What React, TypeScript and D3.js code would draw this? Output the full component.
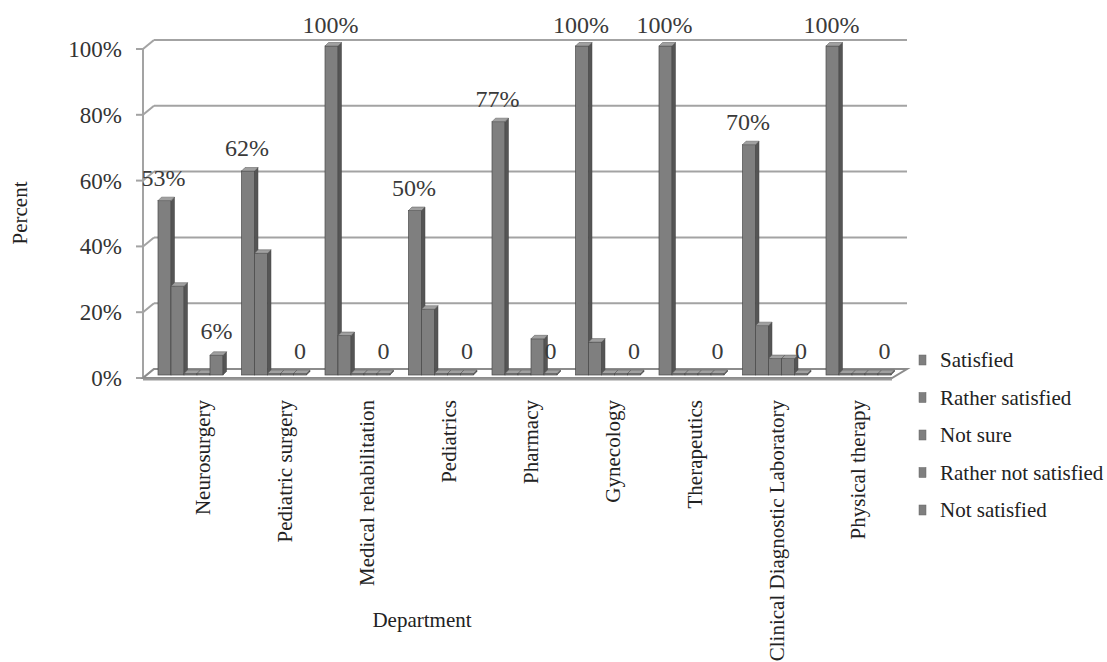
import React from "react";
import * as d3 from "d3";

// Departments on the category axis
const departments = [
  "Neurosurgery",
  "Pediatric surgery",
  "Medical rehabilitation",
  "Pediatrics",
  "Pharmacy",
  "Gynecology",
  "Therapeutics",
  "Clinical Diagnostic Laboratory",
  "Physical therapy",
];

// Survey answer categories (series)
const seriesNames = [
  "Satisfied",
  "Rather satisfied",
  "Not sure",
  "Rather not satisfied",
  "Not satisfied",
];

// Percent values per series, one entry per department
const satisfied = [53, 62, 100, 50, 77, 100, 100, 70, 100];
const ratherSatisfied = [27, 37, 12, 20, 0, 10, 0, 15, 0];
const notSure = [0, 0, 0, 0, 0, 0, 0, 5, 0];
const ratherNotSatisfied = [0, 0, 0, 0, 11, 0, 0, 5, 0];
const notSatisfied = [6, 0, 0, 0, 0, 0, 0, 0, 0];

const seriesValues = [satisfied, ratherSatisfied, notSure, ratherNotSatisfied, notSatisfied];

const yTicks = [0, 20, 40, 60, 80, 100];

const W = 1107;
const H = 662;
const serif: React.CSSProperties = { fontFamily: "Liberation Serif, Times New Roman, serif" };

export default function App() {
  // Front plane of the pseudo-3D box
  const axisX = 143;
  const depthX = 11;
  const depthY = 9;
  const yFront = d3.scaleLinear().domain([0, 100]).range([378, 49]);
  const backRight = 907;

  // Bars sit mid-depth
  const yBar = d3.scaleLinear().domain([0, 100]).range([375, 46]);
  const xGroup = d3.scaleBand<string>().domain(departments).range([144, 895.5]);
  const xSeries = d3.scaleBand<string>().domain(seriesNames).range([14, 79]);
  const xLabel = d3.scaleBand<string>().domain(departments).range([162, 899]);

  const cap = 3.5; // depth of a column's top/side faces
  const gridColor = "#a3a3a3";

  const bars: React.ReactNode[] = [];
  departments.forEach((dep, i) => {
    const gx = xGroup(dep)!;
    seriesNames.forEach((s, k) => {
      const v = seriesValues[k][i];
      const x = gx + xSeries(s)!;
      const w = xSeries.bandwidth();
      const bottom = yBar(0);
      const top = Math.min(yBar(v), bottom - 1.5);
      bars.push(
        <g key={`${i}-${k}`}>
          <rect x={x} y={top} width={w} height={bottom - top} fill="#7f7f7f" stroke="#4a4a4a" strokeWidth={0.7} />
          <polygon
            points={`${x + w},${top} ${x + w + cap},${top - cap} ${x + w + cap},${bottom - cap} ${x + w},${bottom}`}
            fill="#555555"
            stroke="#444"
            strokeWidth={0.5}
          />
          <polygon
            points={`${x},${top} ${x + cap},${top - cap} ${x + w + cap},${top - cap} ${x + w},${top}`}
            fill="#a0a0a0"
            stroke="#555"
            strokeWidth={0.5}
          />
        </g>
      );
    });
  });

  // Data labels: "Satisfied" and "Not satisfied" series
  const labels: React.ReactNode[] = [];
  departments.forEach((dep, i) => {
    const gx = xGroup(dep)!;
    const w = xSeries.bandwidth();
    const vS = satisfied[i];
    const xs = gx + xSeries("Satisfied")! + w / 2 - 1;
    labels.push(
      <text key={`s${i}`} x={xs} y={Math.max(yBar(vS) - 15, 33)} textAnchor="middle" fontSize={24} fill="#3a3a3a" style={serif}>
        {`${vS}%`}
      </text>
    );
    const vN = notSatisfied[i];
    const xn = gx + xSeries("Not satisfied")! + w / 2;
    labels.push(
      <text key={`n${i}`} x={xn} y={yBar(vN) - 16} textAnchor="middle" fontSize={24} fill="#3a3a3a" style={serif}>
        {vN === 0 ? "0" : `${vN}%`}
      </text>
    );
  });

  return (
    <svg width={W} height={H} style={{ position: "absolute", left: 0, top: 0, background: "#fff" }}>
      {/* back wall gridlines and left wall diagonals */}
      {yTicks.map((t) => (
        <g key={t}>
          <line x1={axisX + depthX} x2={backRight} y1={yFront(t) - depthY} y2={yFront(t) - depthY} stroke={gridColor} strokeWidth={2} />
          <line x1={axisX} y1={yFront(t)} x2={axisX + depthX} y2={yFront(t) - depthY} stroke={gridColor} strokeWidth={2} />
          <line x1={axisX - 7} x2={axisX} y1={yFront(t)} y2={yFront(t)} stroke={gridColor} strokeWidth={2} />
          <text x={122} y={yFront(t)} dy="0.35em" textAnchor="end" fontSize={23} fill="#333" style={serif}>
            {`${t}%`}
          </text>
        </g>
      ))}
      {/* vertical axis */}
      <line x1={axisX} x2={axisX} y1={yFront(100)} y2={yFront(0)} stroke={gridColor} strokeWidth={2} />

      {/* floor */}
      <polygon
        points={`${axisX},${yFront(0)} ${axisX + depthX},${yFront(0) - depthY} ${backRight},${yFront(0) - depthY} ${backRight - depthX - 4},${yFront(0)}`}
        fill="#ffffff"
        stroke="#8c8c8c"
        strokeWidth={2}
      />
      <line x1={axisX} x2={backRight - depthX - 4} y1={yFront(0) + 1.5} y2={yFront(0) + 1.5} stroke="#9a9a9a" strokeWidth={2} />

      {bars}
      {labels}

      {/* category labels */}
      {departments.map((d) => (
        <text
          key={d}
          transform={`translate(${xLabel(d)! + xLabel.bandwidth() / 2},400) rotate(-90)`}
          dy="0.35em"
          textAnchor="end"
          fontSize={21}
          fill="#222"
          style={serif}
        >
          {d}
        </text>
      ))}

      {/* axis titles */}
      <text transform="translate(20,213) rotate(-90)" dy="0.35em" textAnchor="middle" fontSize={21} fill="#222" style={serif}>
        Percent
      </text>
      <text x={422} y={620} dy="0.35em" textAnchor="middle" fontSize={21} fill="#222" style={serif}>
        Department
      </text>

      {/* legend */}
      {seriesNames.map((s, k) => {
        const cy = 360 + k * 37.5;
        return (
          <g key={s}>
            <rect x={919} y={cy - 5} width={7} height={10} fill="#7f7f7f" stroke="#666" strokeWidth={0.5} />
            <text x={940} y={cy} dy="0.35em" fontSize={21} fill="#222" style={serif}>
              {s}
            </text>
          </g>
        );
      })}
    </svg>
  );
}
